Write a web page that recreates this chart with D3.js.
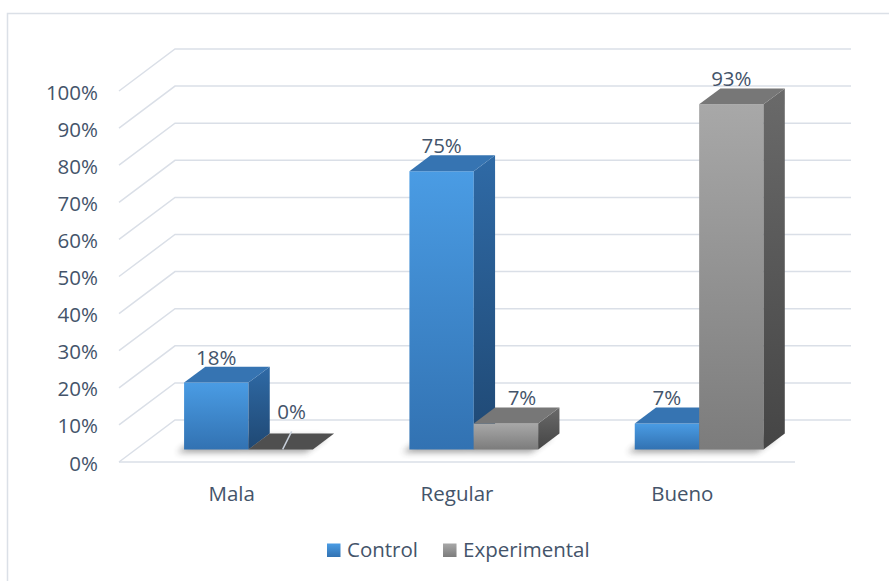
<!DOCTYPE html>
<html>
<head>
<meta charset="utf-8">
<script src="https://cdn.jsdelivr.net/npm/d3@7"></script>
<style>
  html, body { margin: 0; padding: 0; background: #ffffff; }
  svg { display: block; }
  text { font-family: "Open Sans", "Noto Sans", sans-serif; fill: #44546a; }
</style>
</head>
<body>
<svg id="chart" width="889" height="581"></svg>
<script>
// Data
const categories = ["Mala", "Regular", "Bueno"];
const series = ["Control", "Experimental"];
const controlValues = [0.18, 0.75, 0.07];
const experimentalValues = [0.00, 0.07, 0.93];
const tickValues = [0, 0.1, 0.2, 0.3, 0.4, 0.5, 0.6, 0.7, 0.8, 0.9, 1.0];

const values = { Control: controlValues, Experimental: experimentalValues };

// Layout of the 3D box
const W = 889, H = 581;
const front = { left: 119, right: 795, floor: 462, top: 91 };
const depth = { dx: 56, dy: 42 };          // offset from the front plane to the back wall
const barDepth = { t0: 0.30, t1: 0.68 };   // bars sit in the middle of the depth
const fontSize = 20.5;

const svg = d3.select("#chart");
const defs = svg.append("defs");

// Scales
const y = d3.scaleLinear().domain([0, 1]).range([front.floor, front.top]);
const x = d3.scaleBand().domain(categories).range([front.left, front.right]).paddingInner(0).paddingOuter(0);
const xs = d3.scaleBand().domain(series).range([0, x.bandwidth()]).paddingInner(0).paddingOuter(0.75);

// Projection: point on the front plane (px, value) pushed back by depth fraction t
const proj = (px, v, t) => [px + t * depth.dx, y(v) - t * depth.dy];

// Gradients for the faces
function vgrad(id, c0, c1) {
  const g = defs.append("linearGradient").attr("id", id)
    .attr("x1", 0).attr("y1", 0).attr("x2", 0).attr("y2", 1);
  g.append("stop").attr("offset", "0%").attr("stop-color", c0);
  g.append("stop").attr("offset", "100%").attr("stop-color", c1);
}
const palette = {
  Control:      { front: ["#4a9ce4", "#3272b2"], side: ["#2f6aa6", "#1f4873"], top: "#3674b2" },
  Experimental: { front: ["#a8a8a8", "#7c7c7c"], side: ["#6a6a6a", "#454545"], top: "#777777", zero: "#4f4f4f" }
};
series.forEach(s => {
  vgrad("front-" + s, palette[s].front[0], palette[s].front[1]);
  vgrad("side-" + s, palette[s].side[0], palette[s].side[1]);
});

const shadow = defs.append("filter").attr("id", "floorShadow")
  .attr("x", "-30%").attr("y", "-60%").attr("width", "160%").attr("height", "220%");
shadow.append("feGaussianBlur").attr("stdDeviation", 3);

// Chart area border
svg.append("rect")
  .attr("x", 7.5).attr("y", 13.5).attr("width", 920).attr("height", 620)
  .attr("fill", "#ffffff").attr("stroke", "#dbe0e7").attr("stroke-width", 1.5);

// Gridlines: diagonal on the side wall, horizontal on the back wall
const grid = svg.append("g").attr("fill", "none").attr("stroke", "#dadfe7").attr("stroke-width", 1.5);
tickValues.forEach(v => {
  const [fx, fy] = [front.left, y(v)];
  const [bx, by] = proj(front.left, v, 1);
  const [ex] = proj(front.right, v, 1);
  grid.append("path").attr("d", `M${fx},${fy}L${bx},${by}L${ex},${by}`);
});
// Front edge of the floor
grid.append("line")
  .attr("x1", front.left).attr("x2", front.right)
  .attr("y1", y(0)).attr("y2", y(0));

// Y-axis tick labels
const yAxis = d3.axisLeft(y).tickValues(tickValues).tickSize(0).tickPadding(0)
  .tickFormat(d3.format(".0%"));
const axisG = svg.append("g").attr("transform", `translate(${front.left - 21},0)`).call(yAxis);
axisG.select(".domain").remove();
axisG.selectAll("text")
  .attr("font-size", fontSize).attr("font-family", null).attr("fill", "#44546a")
  .attr("dy", null).attr("y", 8);

// Bars
const bars = [];
categories.forEach((c, i) => {
  series.forEach(s => {
    bars.push({ category: c, series: s, value: values[s][i],
      x0: x(c) + xs(s), x1: x(c) + xs(s) + xs.bandwidth() });
  });
});

const pts = a => a.map(p => p.join(",")).join(" ");

// Soft shadows on the floor
const shadowG = svg.append("g").attr("filter", "url(#floorShadow)").attr("opacity", 0.45);
bars.forEach(b => {
  const { t0, t1 } = barDepth;
  const quad = [proj(b.x0, 0, t0), proj(b.x1, 0, t0), proj(b.x1, 0, t1), proj(b.x0, 0, t1)]
    .map(([px, py]) => [px - 7, py + 3]);
  shadowG.append("polygon").attr("points", pts(quad)).attr("fill", "#333");
});

const barG = svg.append("g");
bars.forEach(b => {
  const { t0, t1 } = barDepth;
  const g = barG.append("g");
  const p = palette[b.series];
  if (b.value === 0) {
    g.append("polygon")
      .attr("points", pts([proj(b.x0, 0, t0), proj(b.x1, 0, t0), proj(b.x1, 0, t1), proj(b.x0, 0, t1)]))
      .attr("fill", p.zero || p.top);
    return;
  }
  // front face
  g.append("polygon")
    .attr("points", pts([proj(b.x0, b.value, t0), proj(b.x1, b.value, t0), proj(b.x1, 0, t0), proj(b.x0, 0, t0)]))
    .attr("fill", `url(#front-${b.series})`);
  // right side face
  g.append("polygon")
    .attr("points", pts([proj(b.x1, b.value, t0), proj(b.x1, b.value, t1), proj(b.x1, 0, t1), proj(b.x1, 0, t0)]))
    .attr("fill", `url(#side-${b.series})`);
  // top face
  g.append("polygon")
    .attr("points", pts([proj(b.x0, b.value, t0), proj(b.x1, b.value, t0), proj(b.x1, b.value, t1), proj(b.x0, b.value, t1)]))
    .attr("fill", p.top);
});

// Data labels (two were moved by hand in the source workbook)
const labelNudge = { "Mala|Experimental": [11, -12], "Regular|Experimental": [16, 0] };
const labelG = svg.append("g").attr("font-size", fontSize).attr("text-anchor", "middle");
bars.forEach(b => {
  const { t0, t1 } = barDepth;
  const cx = (proj(b.x0, b.value, t0)[0] + proj(b.x1, b.value, t0)[0]) / 2;
  const topBack = proj(b.x0, b.value, t1)[1];
  const [nx, ny] = labelNudge[b.category + "|" + b.series] || [0, 0];
  const lx = cx + nx, ly = topBack - 2 + ny;
  labelG.append("text").attr("x", lx).attr("y", ly).text(d3.format(".0%")(b.value));
  if (b.value === 0) {
    // leader line from the moved label back to its bar
    svg.append("line")
      .attr("x1", lx).attr("y1", ly + 12)
      .attr("x2", cx + 2).attr("y2", proj(b.x0, 0, t0)[1])
      .attr("stroke", "#c9d1dc").attr("stroke-width", 1.5);
  }
});

// Category labels
svg.append("g").attr("font-size", fontSize).attr("text-anchor", "middle")
  .selectAll("text").data(categories).join("text")
  .attr("x", d => x(d) + x.bandwidth() / 2)
  .attr("y", 501)
  .text(d => d);

// Legend
const legend = svg.append("g").attr("font-size", fontSize);
let lx = 327;
series.forEach(s => {
  legend.append("rect").attr("x", lx).attr("y", 543.5).attr("width", 13.5).attr("height", 13.5)
    .attr("fill", `url(#front-${s})`);
  const t = legend.append("text").attr("x", lx + 20).attr("y", 557).text(s);
  lx = lx + 20 + t.node().getComputedTextLength() + 25;
});
</script>
</body>
</html>
